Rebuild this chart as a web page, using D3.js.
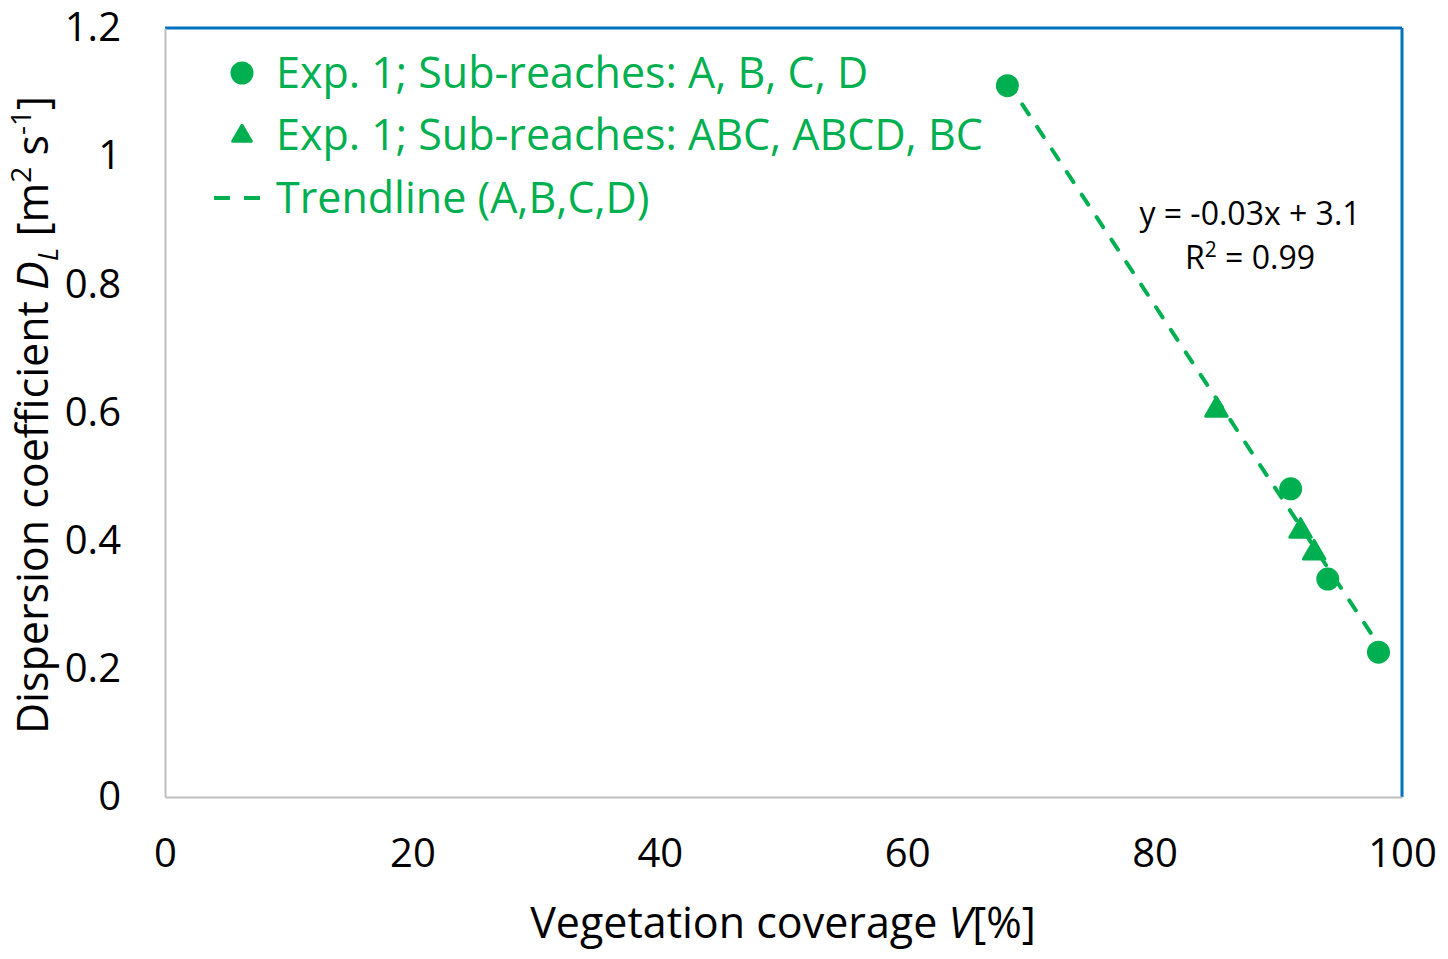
<!DOCTYPE html>
<html>
<head>
<meta charset="utf-8">
<script src="https://cdn.jsdelivr.net/npm/d3@7"></script>
<style>
  body { margin: 0; background: #fff; }
  text { font-family: "Open Sans", sans-serif; }
</style>
</head>
<body>
<div id="chart"></div>
<script>
// Data
const circleX = [68.1, 91.0, 94.0, 98.1];
const circleY = [1.11, 0.481, 0.34, 0.226];
const triangleX = [85.0, 91.8, 92.9];
const triangleY = [0.604, 0.415, 0.381];
const xTicks = [0, 20, 40, 60, 80, 100];
const yTicks = [0, 0.2, 0.4, 0.6, 0.8, 1, 1.2];
const legendLabels = [
  "Exp. 1; Sub-reaches: A, B, C, D",
  "Exp. 1; Sub-reaches: ABC, ABCD, BC",
  "Trendline (A,B,C,D)",
];
const green = "#00b050";

const circles = circleX.map((x, i) => ({ x, y: circleY[i] }));
const triangles = triangleX.map((x, i) => ({ x, y: triangleY[i] }));

// Dimensions
let dimensions = {
  width: 1448,
  height: 959,
  margin: { top: 28, bottom: 162, left: 165, right: 46 },
};
dimensions.containerWidth =
  dimensions.width - dimensions.margin.left - dimensions.margin.right;
dimensions.containerHeight =
  dimensions.height - dimensions.margin.top - dimensions.margin.bottom;

const svg = d3
  .select("#chart")
  .append("svg")
  .attr("width", dimensions.width)
  .attr("height", dimensions.height);

const container = svg
  .append("g")
  .attr("transform", `translate(${dimensions.margin.left}, ${dimensions.margin.top})`);

// Scales
const xScale = d3.scaleLinear().domain([0, 100]).range([0, dimensions.containerWidth]);
const yScale = d3.scaleLinear().domain([0, 1.2]).range([dimensions.containerHeight, 0]);

// Frame: gray left/bottom, blue top/right
container.append("line")
  .attr("x1", 0).attr("x2", dimensions.containerWidth)
  .attr("y1", 0).attr("y2", 0)
  .attr("stroke", "#0070c0").attr("stroke-width", 3);
container.append("line")
  .attr("x1", dimensions.containerWidth).attr("x2", dimensions.containerWidth)
  .attr("y1", 0).attr("y2", dimensions.containerHeight)
  .attr("stroke", "#0070c0").attr("stroke-width", 3);

// Axes
const xAxis = d3.axisBottom(xScale).tickValues(xTicks).tickSize(0).tickPadding(42);
const xAxisGroup = container.append("g")
  .attr("transform", `translate(0, ${dimensions.containerHeight})`)
  .call(xAxis);
const yAxis = d3.axisLeft(yScale).tickValues(yTicks).tickSize(0).tickPadding(44)
  .tickFormat((d) => String(d));
const yAxisGroup = container.append("g").call(yAxis);

[xAxisGroup, yAxisGroup].forEach((g) => {
  g.select(".domain").attr("stroke", "#bfbfbf").attr("stroke-width", 2);
  g.selectAll("text")
    .attr("fill", "#000")
    .style("font-size", "40px")
    .style("font-family", "'Open Sans', sans-serif");
});

// Axis titles
svg.append("text")
  .attr("x", 783)
  .attr("y", 938)
  .attr("text-anchor", "middle")
  .style("font-size", "43px")
  .attr("fill", "#000")
  .html('Vegetation coverage <tspan font-style="italic">V</tspan>[%]');

svg.append("text")
  .attr("transform", `translate(48, 415) rotate(270)`)
  .attr("text-anchor", "middle")
  .style("font-size", "43px")
  .attr("fill", "#000")
  .html('Dispersion coefficient <tspan font-style="italic">D</tspan><tspan font-style="italic" font-size="28px" dy="10">L</tspan><tspan dy="-10"> [m</tspan><tspan font-size="28px" dy="-17">2</tspan><tspan dy="17"> s</tspan><tspan font-size="28px" dy="-17">-1</tspan><tspan dy="17">]</tspan>');

// Trendline from linear regression of circle series
const mx = d3.mean(circles, (d) => d.x);
const my = d3.mean(circles, (d) => d.y);
const slope =
  d3.sum(circles, (d) => (d.x - mx) * (d.y - my)) /
  d3.sum(circles, (d) => (d.x - mx) ** 2);
const intercept = my - slope * mx;
const [x0, x1] = d3.extent(circles, (d) => d.x);

container.append("line")
  .attr("x1", xScale(x0)).attr("y1", yScale(slope * x0 + intercept))
  .attr("x2", xScale(x1)).attr("y2", yScale(slope * x1 + intercept))
  .attr("stroke", green)
  .attr("stroke-width", 4)
  .attr("stroke-linecap", "round")
  .attr("stroke-dasharray", "12 15");

// Markers
container.selectAll(".dot")
  .data(circles)
  .join("circle")
  .attr("class", "dot")
  .attr("cx", (d) => xScale(d.x))
  .attr("cy", (d) => yScale(d.y))
  .attr("r", 11.5)
  .attr("fill", green);

const triangleSymbol = d3.symbol().type(d3.symbolTriangle).size(200);
container.selectAll(".tri")
  .data(triangles)
  .join("path")
  .attr("class", "tri")
  .attr("d", triangleSymbol)
  .attr("transform", (d) => `translate(${xScale(d.x)}, ${yScale(d.y)})`)
  .attr("fill", green)
  .attr("stroke", green)
  .attr("stroke-width", 3)
  .attr("stroke-linejoin", "round");

// Equation (Excel-style, plain hyphen)
const eqLine = "y = " + slope.toFixed(2) + "x + " + intercept.toFixed(1);
const eq = svg.append("g").attr("fill", "#000").style("font-size", "32px");
eq.append("text").attr("x", 1250).attr("y", 225).attr("text-anchor", "middle")
  .text(eqLine);
eq.append("text").attr("x", 1250).attr("y", 269).attr("text-anchor", "middle")
  .html('R<tspan font-size="21px" dy="-12">2</tspan><tspan dy="12"> = 0.99</tspan>');

// Legend
const legend = svg.append("g");
const rowY = [73, 135, 198];
legend.append("circle").attr("cx", 242).attr("cy", rowY[0]).attr("r", 11.5).attr("fill", green);
legend.append("path")
  .attr("d", d3.symbol().type(d3.symbolTriangle).size(150))
  .attr("transform", `translate(242, ${rowY[1] + 1})`)
  .attr("fill", green).attr("stroke", green).attr("stroke-width", 3).attr("stroke-linejoin", "round");
legend.append("line")
  .attr("x1", 214).attr("x2", 260).attr("y1", rowY[2]).attr("y2", rowY[2])
  .attr("stroke", green).attr("stroke-width", 4).attr("stroke-dasharray", "16 14");
legend.selectAll(".legend-label")
  .data(legendLabels)
  .join("text")
  .attr("class", "legend-label")
  .attr("x", 276)
  .attr("y", (d, i) => rowY[i])
  .attr("dy", "0.35em")
  .attr("fill", green)
  .style("font-size", "43px")
  .text((d) => d);
</script>
</body>
</html>
